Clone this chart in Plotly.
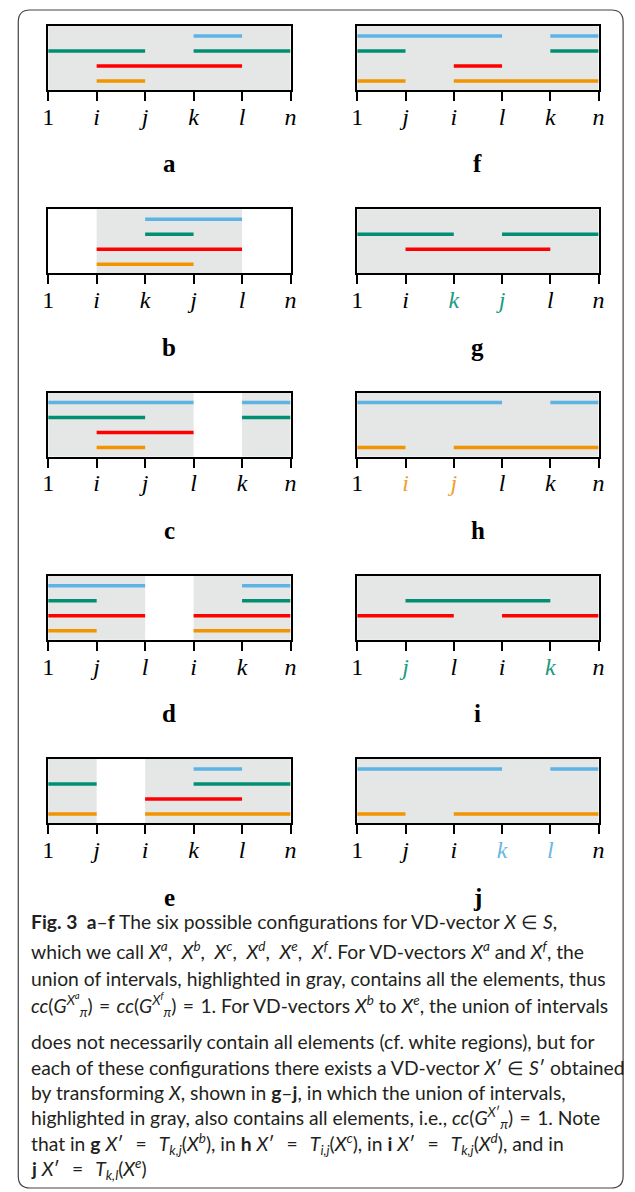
import plotly.graph_objects as go

W, H = 635, 1192

# ---------------- data ----------------
panels = ['a', 'b', 'c', 'd', 'e', 'f', 'g', 'h', 'i', 'j']

tick_labels = {
    'a': ['1', 'i', 'j', 'k', 'l', 'n'],
    'b': ['1', 'i', 'k', 'j', 'l', 'n'],
    'c': ['1', 'i', 'j', 'l', 'k', 'n'],
    'd': ['1', 'j', 'l', 'i', 'k', 'n'],
    'e': ['1', 'j', 'i', 'k', 'l', 'n'],
    'f': ['1', 'j', 'i', 'l', 'k', 'n'],
    'g': ['1', 'i', 'k', 'j', 'l', 'n'],
    'h': ['1', 'i', 'j', 'l', 'k', 'n'],
    'i': ['1', 'j', 'l', 'i', 'k', 'n'],
    'j': ['1', 'j', 'i', 'k', 'l', 'n'],
}
# which tick labels are coloured (index -> series name)
tick_label_series = {
    'g': {2: 'green', 3: 'green'},
    'h': {1: 'orange', 2: 'orange'},
    'i': {1: 'green', 4: 'green'},
    'j': {3: 'blue', 4: 'blue'},
}

gray_regions = {
    'a': [(0, 5)], 'b': [(1, 4)], 'c': [(0, 3), (4, 5)], 'd': [(0, 2), (3, 5)],
    'e': [(0, 1), (2, 5)], 'f': [(0, 5)], 'g': [(0, 5)], 'h': [(0, 5)],
    'i': [(0, 5)], 'j': [(0, 5)],
}
blue_segments = {
    'a': [(3, 4)], 'b': [(2, 4)], 'c': [(0, 3), (4, 5)], 'd': [(0, 2), (4, 5)],
    'e': [(3, 4)], 'f': [(0, 3), (4, 5)], 'g': [], 'h': [(0, 3), (4, 5)],
    'i': [], 'j': [(0, 3), (4, 5)],
}
green_segments = {
    'a': [(0, 2), (3, 5)], 'b': [(2, 3)], 'c': [(0, 2), (4, 5)], 'd': [(0, 1), (4, 5)],
    'e': [(0, 1), (3, 5)], 'f': [(0, 1), (4, 5)], 'g': [(0, 2), (3, 5)], 'h': [],
    'i': [(1, 4)], 'j': [],
}
red_segments = {
    'a': [(1, 4)], 'b': [(1, 4)], 'c': [(1, 3)], 'd': [(0, 2), (3, 5)],
    'e': [(2, 4)], 'f': [(2, 3)], 'g': [(1, 4)], 'h': [],
    'i': [(0, 2), (3, 5)], 'j': [],
}
orange_segments = {
    'a': [(1, 2)], 'b': [(1, 3)], 'c': [(1, 2)], 'd': [(0, 1), (3, 5)],
    'e': [(0, 1), (2, 5)], 'f': [(0, 1), (2, 5)], 'g': [], 'h': [(0, 1), (2, 5)],
    'i': [], 'j': [(0, 1), (2, 5)],
}
series_rows = {'blue': 4, 'green': 3, 'red': 2, 'orange': 1}

# ---------------- styles ----------------
colors = {'blue': '#5DB3E4', 'green': '#008F72', 'red': '#FF0000', 'orange': '#F09400'}
label_colors = {'blue': '#6AB8E3', 'green': '#1E9A80', 'orange': '#F2A030'}
GRAY = '#E5E6E6'
SERIF = 'Liberation Serif'
SANS = 'Lato'

col_x = [(43, 290), (358, 604)]
row_top0, row_step, box_h = 26, 183.25, 64

series_segments = {'blue': blue_segments, 'green': green_segments,
                   'red': red_segments, 'orange': orange_segments}

fig = go.Figure()
shapes = []
annotations = []
layout = {}

for idx, p in enumerate(panels):
    col = idx // 5
    row = idx % 5
    x0, x1 = col_x[col]
    top = row_top0 + row * row_step
    bot = top + box_h
    n = '' if idx == 0 else str(idx + 1)
    xr, yr = 'x' + n, 'y' + n

    ticktext = []
    for t_i, lab in enumerate(tick_labels[p]):
        txt = lab if lab == '1' else '<i>%s</i>' % lab
        s = tick_label_series.get(p, {}).get(t_i)
        if s:
            txt = "<span style='color:%s'>%s</span>" % (label_colors[s], txt)
        ticktext.append(txt)

    layout['xaxis' + n] = dict(
        domain=[x0 / W, x1 / W], anchor=yr, range=[0, 5],
        tickmode='array', tickvals=list(range(len(tick_labels[p]))), ticktext=ticktext,
        ticks='outside', ticklen=9, tickwidth=2, tickcolor='black',
        ticklabelstandoff=-5,
        showline=True, mirror=True, linecolor='black', linewidth=2,
        showgrid=False, zeroline=False, fixedrange=True,
        tickfont=dict(family=SERIF, size=24, color='black'))
    layout['yaxis' + n] = dict(
        domain=[1 - bot / H, 1 - top / H], anchor=xr, range=[0.4, 4.67],
        showticklabels=False, ticks='', showline=True, mirror=True,
        linecolor='black', linewidth=2, showgrid=False, zeroline=False, fixedrange=True)

    for (g0, g1) in gray_regions[p]:
        shapes.append(dict(type='rect', xref=xr, yref=yr + ' domain',
                           x0=g0, x1=g1, y0=0, y1=1, fillcolor=GRAY,
                           line=dict(width=0), layer='below'))

    for s, segs in series_segments.items():
        if not segs[p]:
            continue
        xs, ys = [], []
        for (a, b) in segs[p]:
            xs += [a, b, None]
            ys += [series_rows[s], series_rows[s], None]
        fig.add_trace(go.Scatter(x=xs, y=ys, xaxis=xr, yaxis=yr, mode='lines',
                                 line=dict(color=colors[s], width=3.5),
                                 hoverinfo='skip', showlegend=False))

    annotations.append(dict(xref='paper', yref='paper', x=(x0 + x1) / 2 / W,
                            y=1 - (top + 138) / H, text='<b>%s</b>' % p,
                            showarrow=False, xanchor='center', yanchor='middle',
                            font=dict(family=SERIF, size=25, color='black')))

# ---------------- caption ----------------
EQ = '\u2002\u2009=\u2002\u2009'
EQ2 = '\u2004=\u2004'
SEP = ',\u2002'
caption_lines = [
    "<b>Fig. 3  a</b>–<b>f</b> The six possible configurations for VD-vector <i>X</i> ∈ <i>S</i>,",
    "which we call <i>X<sup>a</sup></i>" + SEP + "<i>X<sup>b</sup></i>" + SEP + "<i>X<sup>c</sup></i>" + SEP +
    "<i>X<sup>d</sup></i>" + SEP + "<i>X<sup>e</sup></i>" + SEP + "<i>X<sup>f</sup></i>. For VD-vectors <i>X<sup>a</sup></i> and <i>X<sup>f</sup></i>, the",
    "union of intervals, highlighted in gray, contains all the elements, thus",
    "<i>cc</i>(<i>G</i><sup><i>X<sup>a</sup></i></sup><sub><i>π</i></sub>)" + EQ2 + "<i>cc</i>(<i>G</i><sup><i>X<sup>f</sup></i></sup><sub><i>π</i></sub>)" + EQ2 + "1. For VD-vectors <i>X<sup>b</sup></i> to <i>X<sup>e</sup></i>, the union of intervals",
    "does not necessarily contain all elements (cf. white regions), but for",
    "each of these configurations there exists a VD-vector <i>X</i>′ ∈ <i>S</i>′ obtained",
    "by transforming <i>X</i>, shown in <b>g</b>–<b>j</b>, in which the union of intervals,",
    "highlighted in gray, also contains all elements, i.e., <i>cc</i>(<i>G</i><sup><i>X</i>′</sup><sub><i>π</i></sub>)" + EQ2 + "1. Note",
    "that in <b>g</b> <i>X</i>′" + EQ + "<i>T<sub>k,j</sub></i>(<i>X<sup>b</sup></i>), in <b>h</b> <i>X</i>′" + EQ + "<i>T<sub>i,j</sub></i>(<i>X<sup>c</sup></i>), in <b>i</b> <i>X</i>′" + EQ + "<i>T<sub>k,j</sub></i>(<i>X<sup>d</sup></i>), and in",
    "<b>j</b> <i>X</i>′" + EQ + "<i>T<sub>k,l</sub></i>(<i>X<sup>e</sup></i>)",
]
caption_y = [921, 950, 978, 1005, 1041, 1067, 1092, 1118, 1144, 1169]
for txt, yy in zip(caption_lines, caption_y):
    annotations.append(dict(xref='paper', yref='paper', x=23 / W, y=1 - yy / H,
                            text=txt, showarrow=False, xanchor='left', yanchor='middle',
                            font=dict(family=SANS, size=19.3, color='#231F20')))

# rounded frame
fx0, fx1, fy0, fy1, r = 12.5, 629, 10, 1188, 12
def P(x, y):
    return '%.5f,%.5f' % (x / W, 1 - y / H)
path = ('M ' + P(fx0 + r, fy0) + ' L ' + P(fx1 - r, fy0) + ' Q ' + P(fx1, fy0) + ' ' + P(fx1, fy0 + r) +
        ' L ' + P(fx1, fy1 - r) + ' Q ' + P(fx1, fy1) + ' ' + P(fx1 - r, fy1) +
        ' L ' + P(fx0 + r, fy1) + ' Q ' + P(fx0, fy1) + ' ' + P(fx0, fy1 - r) +
        ' L ' + P(fx0, fy0 + r) + ' Q ' + P(fx0, fy0) + ' ' + P(fx0 + r, fy0) + ' Z')
shapes.append(dict(type='path', xref='paper', yref='paper', path=path,
                   line=dict(color='#444444', width=1.2), layer='above'))

fig.update_layout(width=W, height=H, margin=dict(l=0, r=0, t=0, b=0),
                  paper_bgcolor='white', plot_bgcolor='white',
                  shapes=shapes, annotations=annotations, showlegend=False, **layout)

fig.write_html('out.html', config={'displayModeBar': False},
               post_script="document.body.style.margin='0';document.body.style.overflow='hidden';")
